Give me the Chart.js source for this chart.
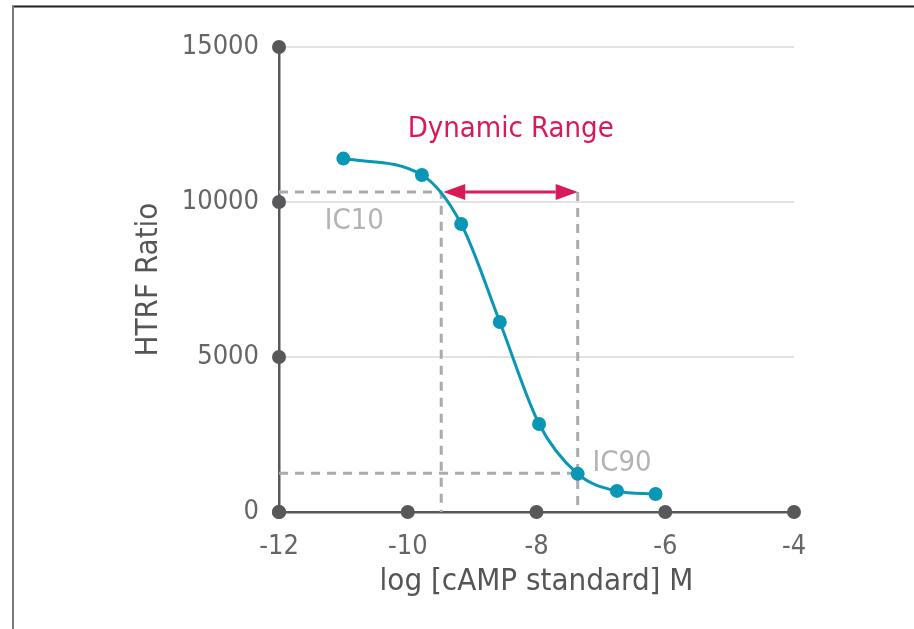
<!DOCTYPE html>
<html>
<head>
<meta charset="utf-8">
<script src="https://cdn.jsdelivr.net/npm/chart.js@4.4.1/dist/chart.umd.min.js"></script>
<style>
  html, body { margin: 0; padding: 0; background: #fff; }
  #wrap { width: 914px; height: 629px; }
</style>
</head>
<body>
<div id="wrap"><canvas id="c" width="914" height="629"></canvas></div>
<script>
// measured points (log M vs HTRF ratio)
const logConc = [-11.0, -9.78, -9.17, -8.57, -7.96, -7.36, -6.75, -6.15]
const htrf = [11400, 10870, 9290, 6130, 2840, 1230, 680, 580]

const xTicks = [-12, -10, -8, -6, -4]
const yTicks = [0, 5000, 10000, 15000]

// IC10 / IC90 markers
const ic10 = { x: -9.48, y: 10320 }
const ic90 = { x: -7.36, y: 1250 }

const labels = [
  { text: 'Dynamic Range', x: -8.40, y: 12330, color: '#d91a57' },
  { text: 'IC10', x: -10.83, y: 9380, color: '#b3b3b3' },
  { text: 'IC90', x: -6.67, y: 1580, color: '#b3b3b3' }
]

const FONT = "'DejaVu Sans Condensed', 'Liberation Sans Narrow', sans-serif"
const TEAL = '#0a97b5'
const RED = '#d91a57'
const AXIS = '#58585a'
const DASH = '#ababab'

const xMin = xTicks[0]
const dashStyle = {
  showLine: true, borderColor: DASH, borderWidth: 3, borderDash: [9, 7],
  pointRadius: 0, fill: false, tension: 0
}

const curve = logConc.map((x, i) => ({ x: x, y: htrf[i] }))

const extras = {
  id: 'extras',
  beforeDraw (chart) {
    const c = chart.ctx
    c.save()
    c.fillStyle = '#fff'
    c.fillRect(0, 0, chart.width, chart.height)
    // frame
    c.lineWidth = 2
    c.strokeStyle = '#222'
    c.beginPath(); c.moveTo(12, 6.5); c.lineTo(chart.width, 6.5); c.stroke()
    c.strokeStyle = '#7a7a7a'
    c.beginPath(); c.moveTo(13, 6); c.lineTo(13, chart.height); c.stroke()
    c.restore()
  },
  afterDatasetsDraw (chart) {
    const c = chart.ctx
    const xs = chart.scales.x
    const ys = chart.scales.y
    c.save()

    // dynamic range arrow
    const ay = ys.getPixelForValue(ic10.y)
    const x1 = xs.getPixelForValue(ic10.x) + 2
    const x2 = xs.getPixelForValue(ic90.x)
    const hl = 22, hw = 8
    c.strokeStyle = RED
    c.fillStyle = RED
    c.lineWidth = 3
    c.beginPath(); c.moveTo(x1 + hl, ay); c.lineTo(x2 - hl, ay); c.stroke()
    c.beginPath(); c.moveTo(x1, ay); c.lineTo(x1 + hl, ay - hw); c.lineTo(x1 + hl, ay + hw); c.closePath(); c.fill()
    c.beginPath(); c.moveTo(x2, ay); c.lineTo(x2 - hl, ay - hw); c.lineTo(x2 - hl, ay + hw); c.closePath(); c.fill()

    // text labels
    c.font = '29px ' + FONT
    c.textAlign = 'center'
    c.textBaseline = 'middle'
    labels.forEach(l => {
      c.fillStyle = l.color
      c.fillText(l.text, xs.getPixelForValue(l.x), ys.getPixelForValue(l.y))
    })

    // axis dots
    c.fillStyle = AXIS
    const y0 = ys.getPixelForValue(0)
    const x0 = xs.getPixelForValue(xMin)
    xTicks.forEach(v => {
      c.beginPath(); c.arc(xs.getPixelForValue(v), y0, 7, 0, Math.PI * 2); c.fill()
    })
    yTicks.forEach(v => {
      c.beginPath(); c.arc(x0, ys.getPixelForValue(v), 7, 0, Math.PI * 2); c.fill()
    })
    c.restore()
  }
}

const chart = new Chart(document.getElementById('c').getContext('2d'), {
  type: 'scatter',
  data: {
    datasets: [
      {
        data: curve,
        showLine: true,
        borderColor: TEAL,
        borderWidth: 3,
        cubicInterpolationMode: 'monotone',
        pointRadius: 7,
        pointBackgroundColor: TEAL,
        pointBorderWidth: 0,
        clip: false
      },
      Object.assign({ data: [{ x: xMin, y: ic10.y }, { x: ic10.x, y: ic10.y }, { x: ic10.x, y: 0 }] }, dashStyle),
      Object.assign({ data: [{ x: xMin, y: ic90.y }, { x: ic90.x, y: ic90.y }] }, dashStyle),
      Object.assign({ data: [{ x: ic90.x, y: ic10.y }, { x: ic90.x, y: 0 }] }, dashStyle)
    ]
  },
  options: {
    responsive: false,
    animation: false,
    events: [],
    layout: { padding: { top: 47, right: 120, left: 0, bottom: 0 } },
    scales: {
      x: {
        type: 'linear',
        min: -12,
        max: -4,
        afterBuildTicks: (s) => { s.ticks = xTicks.map(v => ({ value: v })) },
        afterFit: (s) => { s.height = 117 },
        grid: { display: false, drawTicks: false },
        border: { display: true, color: AXIS, width: 2.5 },
        ticks: {
          padding: 19, color: '#666', font: { family: FONT, size: 27 },
          callback: (v) => String(v)
        },
        title: {
          display: true,
          text: 'log [cAMP standard] M',
          color: '#555',
          font: { family: FONT, size: 31 },
          padding: { top: 0, bottom: 28 }
        }
      },
      y: {
        min: 0,
        max: 15000,
        afterBuildTicks: (s) => { s.ticks = yTicks.map(v => ({ value: v })) },
        afterFit: (s) => { s.width = 279 },
        grid: { color: '#e2e2e2', lineWidth: 2, drawTicks: false },
        border: { display: true, color: AXIS, width: 2.5 },
        ticks: {
          padding: 20, color: '#666', font: { family: FONT, size: 27 },
          callback: (v) => String(v)
        },
        title: {
          display: true,
          text: 'HTRF Ratio',
          color: '#555',
          font: { family: FONT, size: 31 },
          padding: { top: 130, bottom: 0 }
        }
      }
    },
    plugins: {
      legend: { display: false },
      tooltip: { enabled: false }
    }
  },
  plugins: [extras]
})
</script>
</body>
</html>
